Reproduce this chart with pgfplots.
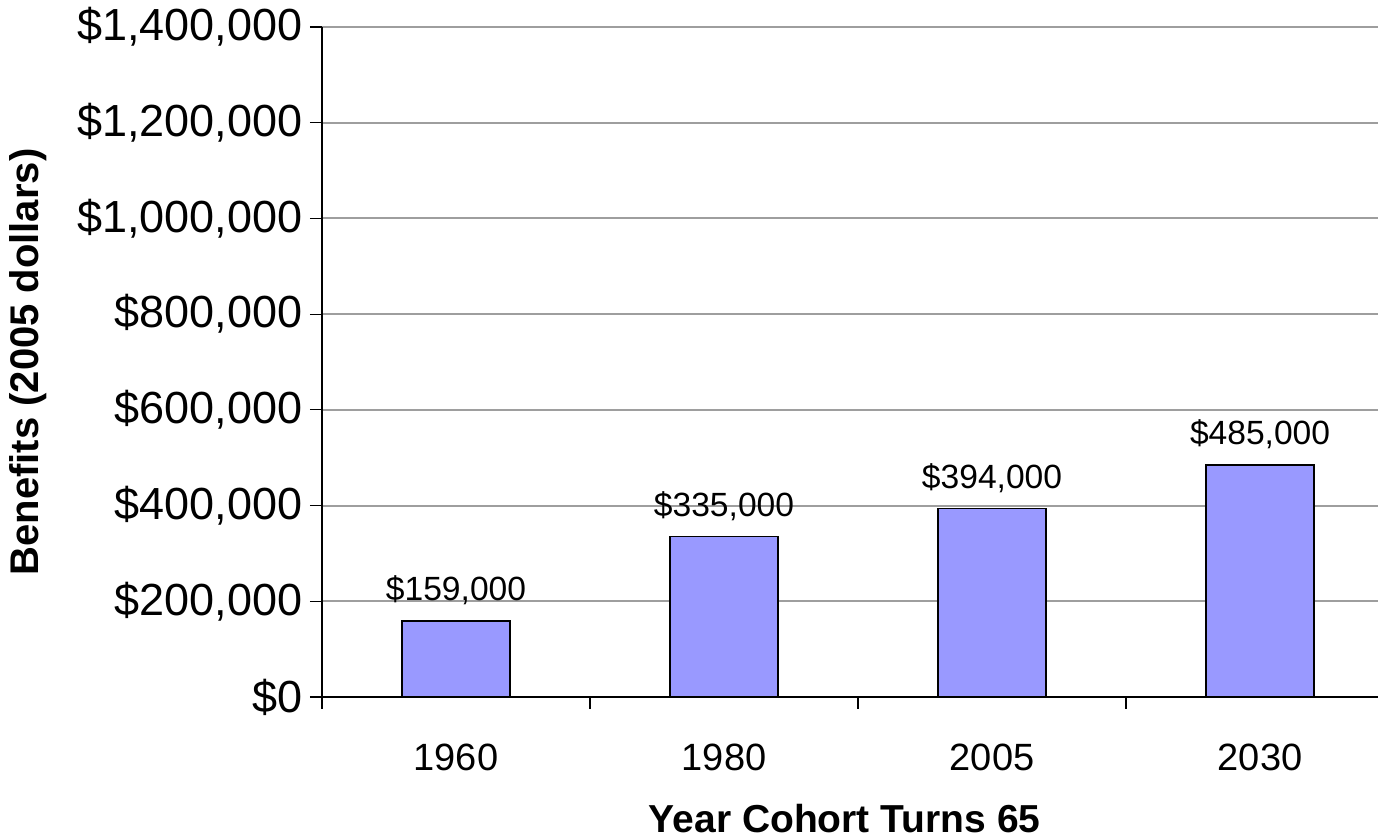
\documentclass[border=0pt]{standalone}
\usepackage{fontspec}
\setmainfont{Liberation Sans}
\usepackage{pgfplots}
\pgfplotsset{compat=1.18}
\definecolor{barblue}{HTML}{9999FF}
\begin{document}
\begin{tikzpicture}
\begin{axis}[
  scale only axis, width=528pt, height=335pt,
  xmin=-0.5, xmax=3.44, ymin=0, ymax=1400000,
  axis x line*=bottom, axis y line*=left,
  axis line style={black, line width=0.6pt},
  /pgf/number format/assume math mode=true,
  tick align=outside,
  major tick length=6pt, minor tick length=6pt,
  xtick={0,1,2,3}, xticklabels={1960,1980,2005,2030},
  minor xtick={-0.5,0.5,1.5,2.5},
  major x tick style={draw=none},
  minor x tick style={draw=black, line width=0.6pt},
  ytick={0,200000,400000,600000,800000,1000000,1200000,1400000},
  yticklabel={\$\pgfmathprintnumber[fixed,precision=0,1000 sep={,}]{\tick}},
  scaled y ticks=false,
  y tick style={draw=black, line width=0.6pt},
  ymajorgrids, major grid style={black!38, line width=1pt},
  ticklabel style={font=\fontsize{22.5}{26}\selectfont},
  xticklabel style={font=\fontsize{19}{22}\selectfont, yshift=-14pt},
  yticklabel style={anchor=east, inner sep=0pt, xshift=-3.5pt},
  xlabel={\textbf{Year Cohort Turns 65}},
  ylabel={\textbf{Benefits (2005 dollars)}},
  label style={font=\fontsize{19.5}{23}\selectfont},
  xlabel style={at={(axis description cs:0.495,0)}, anchor=center, yshift=-61pt},
  ylabel style={at={(axis description cs:0,0.5)}, anchor=center, rotate=0, yshift=147pt, font=\fontsize{20}{24}\selectfont},
]
\addplot[ybar, bar width=0.403, fill=barblue, draw=black, line width=0.7pt,
  nodes near coords={\$\pgfmathprintnumber[fixed,precision=0,1000 sep={,}]{\pgfplotspointmeta}},
  every node near coord/.append style={font=\fontsize{16.8}{20}\selectfont, inner sep=0pt, anchor=base, yshift=10pt, text=black}]
  coordinates {(0,159000) (1,335000) (2,394000) (3,485000)};
\end{axis}
\pgfresetboundingbox
\path ([shift={(-161pt,-71.5pt)}]current axis.south west) rectangle ([shift={(0pt,13.5pt)}]current axis.north east);
\end{tikzpicture}
\end{document}
